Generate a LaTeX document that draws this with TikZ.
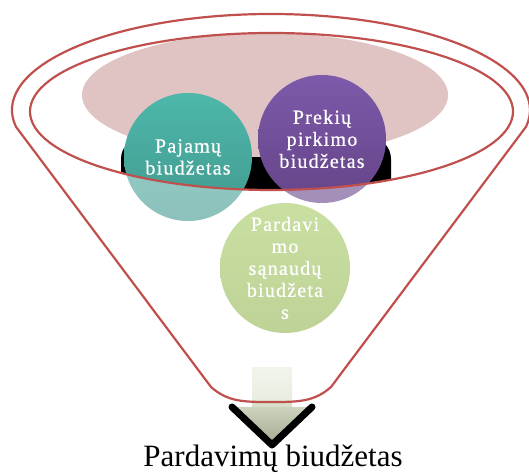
\documentclass[tikz,border=0pt]{standalone}
\usepackage{fontspec}
\setmainfont{Liberation Serif}
\newfontfamily\circfont[LetterSpace=6,FakeBold=0.6]{Liberation Serif}
\usepackage{tikz}
\usetikzlibrary{calc}
\definecolor{funred}{HTML}{C0504D}
\definecolor{pinkfill}{HTML}{E0C3C3}
\definecolor{tealtop}{HTML}{4DB8AA}
\definecolor{tealbot}{HTML}{42988E}
\definecolor{purptop}{HTML}{7D5AAA}
\definecolor{purpbot}{HTML}{654488}
\definecolor{greentop}{HTML}{A6CB63}
\definecolor{greenbot}{HTML}{94B552}
\definecolor{shafttop}{HTML}{E9EFDF}
\definecolor{shaftbot}{HTML}{D5DDC6}
\definecolor{headtop}{HTML}{CDD4BF}
\definecolor{headbot}{HTML}{A2AA8F}

\begin{document}
\begin{tikzpicture}[x=1pt,y=1pt,
    budget/.style={circle,minimum size=128pt,inner sep=0pt,align=center,
      text=white,font=\circfont\fontsize{20}{22}\selectfont},
    rim/.style={draw=funred,line width=2.2pt}]
  \useasboundingbox (0,0) rectangle (529,473);
  % dark band under the circles
  \begin{scope}
    \clip (271.5,361.5) ellipse [x radius=241.5,y radius=78.5];
    \fill[black,rounded corners=22pt] (121,272) rectangle (391,336);
  \end{scope}
  \fill[pinkfill] (265,378) ellipse [x radius=183,y radius=62];
  % arrow out of the funnel
  \shade[top color=shafttop,bottom color=shaftbot] (252,63) rectangle (292,105);
  \shade[top color=headtop,bottom color=headbot] (232,66) -- (312,66) -- (272,28) -- cycle;
  \draw[line width=7pt,line cap=round,line join=round] (232,66) -- (272,28) -- (312,66);
  % budgets
  \node[budget,top color=tealtop,bottom color=tealbot] (pajamu) at (188,316)
    {Pajamų\\biudžetas};
  \node[budget,top color=purptop,bottom color=purpbot] (prekiu) at (322,334)
    {Prekių\\pirkimo\\biudžetas};
  \node[budget,minimum size=130pt,top color=greentop,bottom color=greenbot] (sanaudu) at (285,205)
    {Pardavi\\mo\\sąnaudų\\biudžeta\\s};
  % funnel body
  \fill[white,opacity=0.4,even odd rule]
    (271,363) ++(190:259 and 96) arc[start angle=190,end angle=-10,x radius=259,y radius=96]
    -- (331,86) .. controls (314,71) and (298,71) .. (271,71)
    .. controls (244,71) and (228,71) .. (211,86) -- cycle
    (271.5,361.5) ellipse [x radius=241.5,y radius=78.5];
  \draw[rim]
    (271,363) ++(190:259 and 96) arc[start angle=190,end angle=-10,x radius=259,y radius=96]
    -- (331,86) .. controls (314,71) and (298,71) .. (271,71)
    .. controls (244,71) and (228,71) .. (211,86) -- cycle;
  \draw[rim] (271.5,361.5) ellipse [x radius=241.5,y radius=78.5];
  \node[anchor=base,font=\fontsize{31}{36}\selectfont,inner sep=0pt] (sales) at (273,7)
    {Pardavimų biudžetas};
\end{tikzpicture}
\end{document}
